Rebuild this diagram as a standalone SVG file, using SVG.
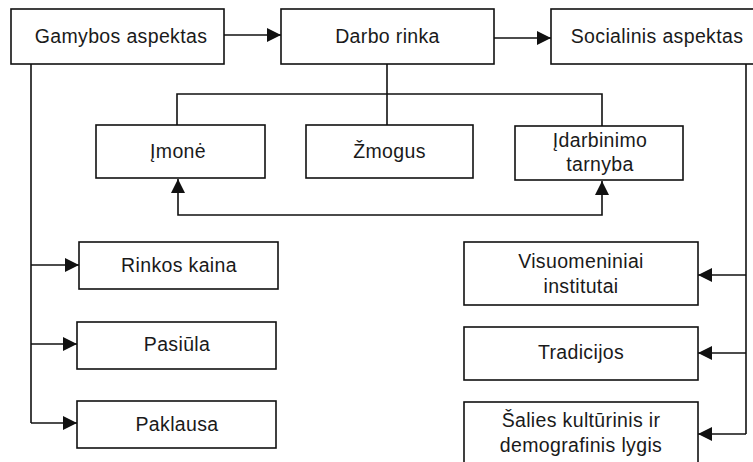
<svg xmlns="http://www.w3.org/2000/svg" width="753" height="462" viewBox="0 0 753 462">
  <style>
    .box { fill: #fff; stroke: #111; stroke-width: 1.6; }
    .lbl { font-family: "Liberation Sans", Arial, sans-serif; font-size: 19.5px; letter-spacing: 0.35px; fill: #1a1a1a; text-anchor: middle; }
    .con { fill: none; stroke: #111; stroke-width: 1.6; }
  </style>
  <defs>
    <marker id="arrow" markerUnits="userSpaceOnUse" markerWidth="16" markerHeight="14" refX="14" refY="7" orient="auto">
      <path d="M0,0 L14,7 L0,14 z" fill="#111"/>
    </marker>
  </defs>

  <rect width="753" height="462" fill="#fff"/>

  <g id="connectors">
    <!-- top row -->
    <path class="con" d="M224,35 H281" marker-end="url(#arrow)"/>
    <path class="con" d="M494,38 H551" marker-end="url(#arrow)"/>
    <!-- Darbo rinka branching -->
    <path class="con" d="M387,64 V125"/>
    <path class="con" d="M177,125 V94 H602 V126"/>
    <!-- link between Įmonė and Įdarbinimo tarnyba -->
    <path class="con" d="M390,215 H178 V179" marker-end="url(#arrow)"/>
    <path class="con" d="M390,215 H602 V181" marker-end="url(#arrow)"/>
    <!-- left branch -->
    <path class="con" d="M31,64 V423"/>
    <path class="con" d="M31,265 H79" marker-end="url(#arrow)"/>
    <path class="con" d="M31,344 H77" marker-end="url(#arrow)"/>
    <path class="con" d="M31,423 H77" marker-end="url(#arrow)"/>
    <!-- right branch -->
    <path class="con" d="M746,64 V434"/>
    <path class="con" d="M746,275 H698" marker-end="url(#arrow)"/>
    <path class="con" d="M746,353 H698" marker-end="url(#arrow)"/>
    <path class="con" d="M746,434 H698" marker-end="url(#arrow)"/>
  </g>

  <g id="gamybos">
    <rect class="box" x="11" y="9" width="213" height="55"/>
    <text class="lbl" x="121" y="43">Gamybos aspektas</text>
  </g>
  <g id="darbo-rinka">
    <rect class="box" x="281" y="9" width="213" height="55"/>
    <text class="lbl" x="387.5" y="43">Darbo rinka</text>
  </g>
  <g id="socialinis">
    <rect class="box" x="551" y="9" width="212" height="55"/>
    <text class="lbl" x="657" y="43">Socialinis aspektas</text>
  </g>

  <g id="imone">
    <rect class="box" x="96" y="125" width="169" height="53"/>
    <text class="lbl" x="178" y="158">Įmonė</text>
  </g>
  <g id="zmogus">
    <rect class="box" x="306" y="125" width="167" height="53"/>
    <text class="lbl" x="389.5" y="158">Žmogus</text>
  </g>
  <g id="idarbinimo">
    <rect class="box" x="515" y="126" width="168" height="54"/>
    <text class="lbl" x="600" y="147">Įdarbinimo</text>
    <text class="lbl" x="600" y="171">tarnyba</text>
  </g>

  <g id="rinkos-kaina">
    <rect class="box" x="79" y="242" width="199" height="47"/>
    <text class="lbl" x="179" y="272">Rinkos kaina</text>
  </g>
  <g id="pasiula">
    <rect class="box" x="77" y="322" width="199" height="47"/>
    <text class="lbl" x="177" y="351">Pasiūla</text>
  </g>
  <g id="paklausa">
    <rect class="box" x="77" y="401" width="199" height="47"/>
    <text class="lbl" x="177" y="431">Paklausa</text>
  </g>

  <g id="visuomeniniai">
    <rect class="box" x="464" y="242" width="234" height="63"/>
    <text class="lbl" x="581" y="268">Visuomeniniai</text>
    <text class="lbl" x="581" y="293">institutai</text>
  </g>
  <g id="tradicijos">
    <rect class="box" x="464" y="327" width="234" height="53"/>
    <text class="lbl" x="581" y="359">Tradicijos</text>
  </g>
  <g id="salies">
    <rect class="box" x="464" y="402" width="234" height="70"/>
    <text class="lbl" x="581" y="427">Šalies kultūrinis ir</text>
    <text class="lbl" x="581" y="452">demografinis lygis</text>
  </g>
</svg>
